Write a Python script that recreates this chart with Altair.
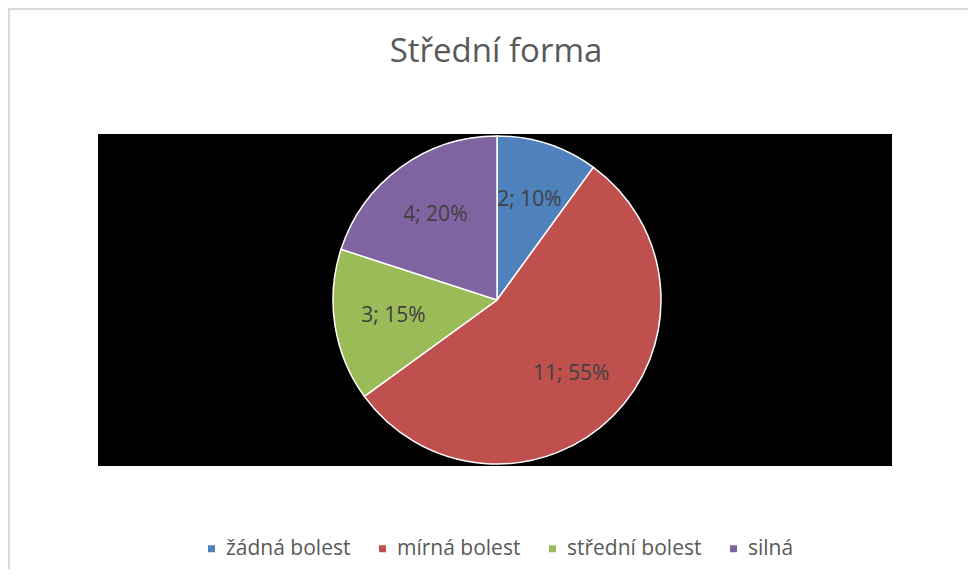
import altair as alt
import pandas as pd

# ---- data ----
categories = ["žádná bolest", "mírná bolest", "střední bolest", "silná"]
counts = [2, 11, 3, 4]
colors = ["#4F81BD", "#C0504D", "#9BBB59", "#8064A2"]
title_text = "Střední forma"

total = sum(counts)
df = pd.DataFrame({
    "kategorie": categories,
    "pocet": counts,
    "poradi": list(range(len(categories))),
    "popisek": [f"{c}; {round(100 * c / total)}%" for c in counts],
})

W, H = 960, 561
CX, CY = 489, 292          # pie centre inside the view
R = 164                    # pie radius
FONT = "Open Sans"

base = alt.Chart(df)

frame_top = base.mark_rule(color="#d9d9d9", strokeWidth=2).encode(
    x=alt.value(0), x2=alt.value(W), y=alt.value(1)
)
frame_left = base.mark_rule(color="#d9d9d9", strokeWidth=2).encode(
    x=alt.value(1), y=alt.value(0), y2=alt.value(H)
)
plot_bg = base.mark_rect(color="black").encode(
    x=alt.value(90), x2=alt.value(884), y=alt.value(126), y2=alt.value(458)
)

pie = base.mark_arc(outerRadius=R, stroke="white", strokeWidth=1.5).encode(
    theta=alt.Theta("pocet:Q", stack=True),
    color=alt.Color(
        "kategorie:N",
        scale=alt.Scale(domain=categories, range=colors),
        legend=alt.Legend(
            title=None,
            orient="none",
            direction="horizontal",
            legendX=193,
            legendY=530,
            symbolType="square",
            symbolSize=49,
            symbolStrokeWidth=0,
            labelFont=FONT,
            labelFontSize=21,
            labelColor="#595959",
            columnPadding=21,
            labelOffset=4,
            padding=0,
        ),
    ),
    order=alt.Order("poradi:Q"),
    x=alt.value(CX),
    y=alt.value(CY),
)

labels = base.mark_text(font=FONT, fontSize=21, color="#404040").encode(
    theta=alt.Theta("pocet:Q", stack=True),
    radius=alt.value(R * 0.64),
    text="popisek:N",
    order=alt.Order("poradi:Q"),
    x=alt.value(CX),
    y=alt.value(CY),
)

chart = (
    alt.layer(frame_top, frame_left, plot_bg, pie, labels)
    .properties(
        width=W,
        height=H,
        autosize=alt.AutoSizeParams(type="none"),
        padding=0,
        title=alt.TitleParams(
            title_text,
            font=FONT,
            fontSize=33,
            fontWeight="normal",
            color="#595959",
            anchor="middle",
            baseline="alphabetic",
            offset=-54,
            dx=8,
            dy=34,
        ),
    )
    .configure_view(stroke=None)
    .configure(background="white")
)

chart.save("out.html", embed_options={"renderer": "svg", "actions": False})
